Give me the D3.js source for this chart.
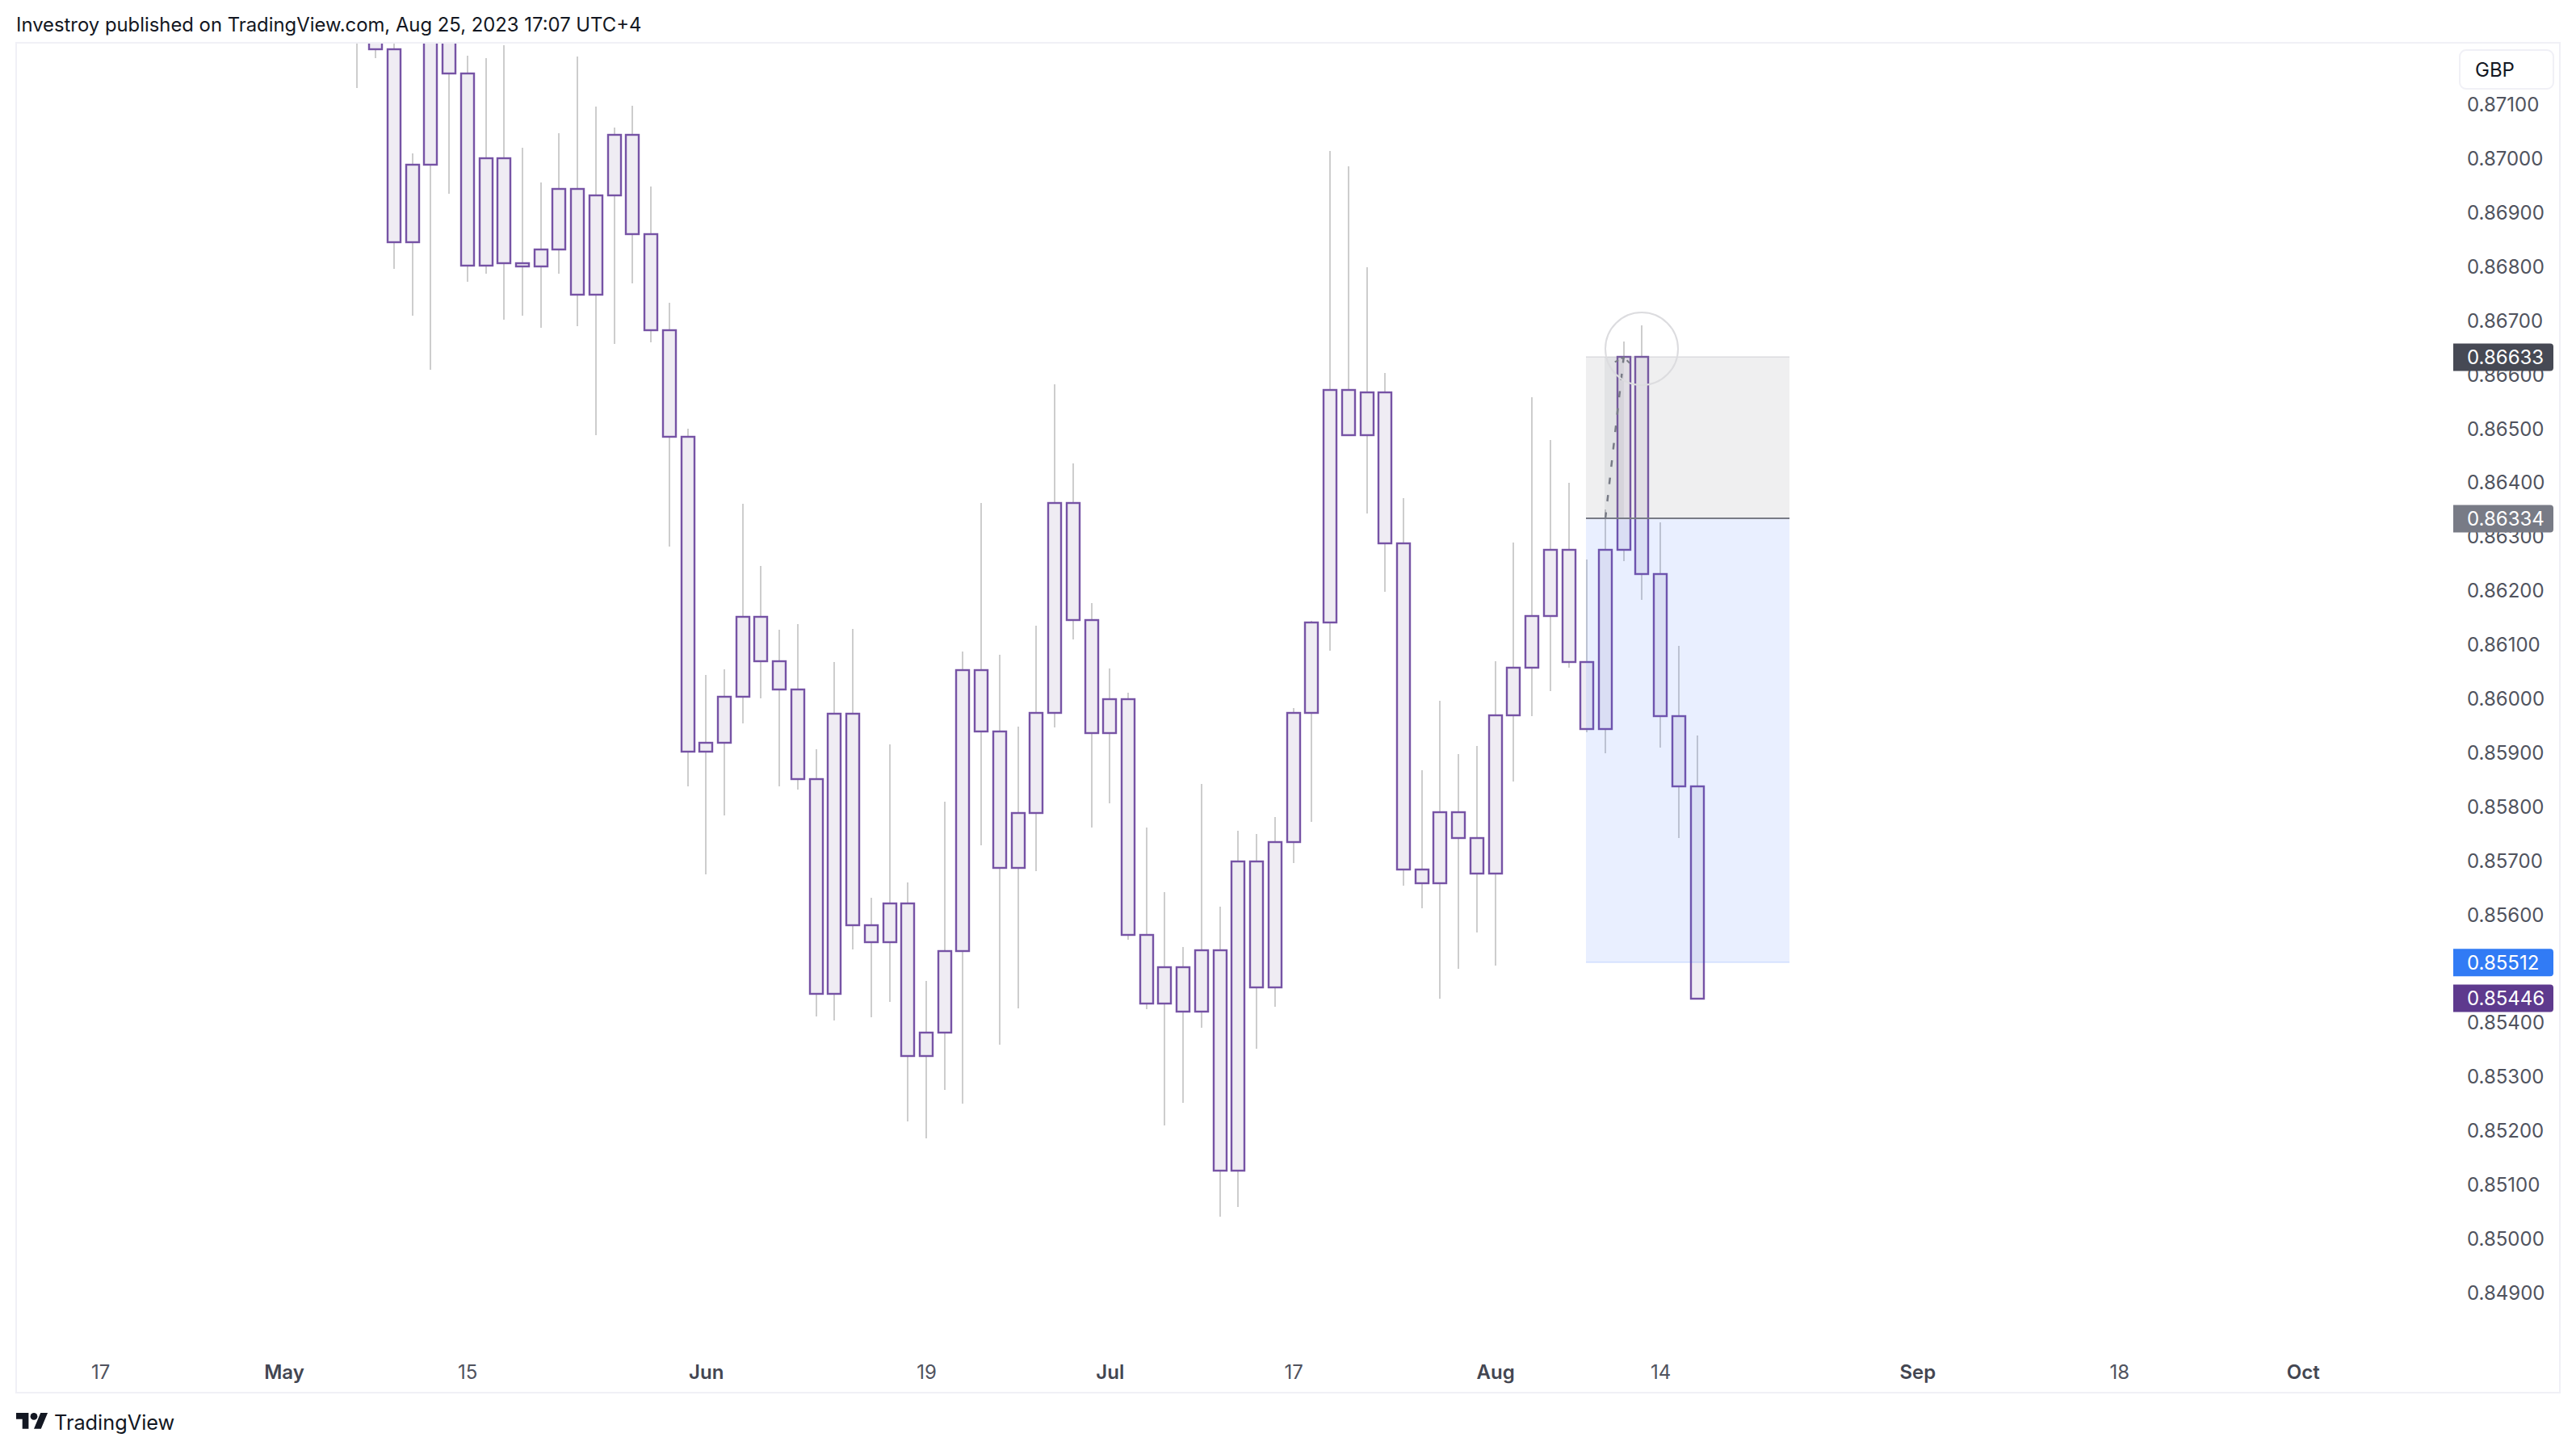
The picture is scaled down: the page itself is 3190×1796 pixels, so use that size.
<!DOCTYPE html>
<html>
<head>
<meta charset="utf-8">
<style>
  html, body { margin: 0; background: #fff; }
  svg { display: block; }
  text { font-family: Inter, "Noto Sans", sans-serif; }
</style>
</head>
<body>
<div id="chart"></div>
<script src="https://cdn.jsdelivr.net/npm/d3@7"></script>
<script>
// candles, one per weekday starting on firstCandle (prices)
var firstCandle = '2023-05-05';
var candleOpen = [
  0.87300, 0.87260, 0.87203, 0.86846, 0.86989, 0.87290, 0.87159, 0.86802, 0.87002, 0.86807,
  0.86801, 0.86833, 0.86944, 0.86749, 0.86932, 0.87044, 0.86861, 0.86683, 0.86486, 0.85902,
  0.85919, 0.86005, 0.86153, 0.86070, 0.86018, 0.85852, 0.85454, 0.85973, 0.85582, 0.85550,
  0.85622, 0.85339, 0.85383, 0.85534, 0.86054, 0.85940, 0.85687, 0.85789, 0.85974, 0.86363,
  0.86147, 0.85937, 0.86000, 0.85563, 0.85437, 0.85503, 0.85422, 0.85535, 0.85127, 0.85699,
  0.85466, 0.85736, 0.85975, 0.86142, 0.86573, 0.86489, 0.86568, 0.86289, 0.85684, 0.85659,
  0.85791, 0.85743, 0.85677, 0.85970, 0.86058, 0.86154, 0.86277, 0.86068, 0.85945, 0.86277,
  0.86633, 0.86231, 0.85969, 0.85839
];
var candleHigh = [
  0.87340, 0.87300, 0.87240, 0.87011, 0.87330, 0.87320, 0.87191, 0.87187, 0.87211, 0.87021,
  0.86956, 0.87048, 0.87190, 0.87097, 0.87058, 0.87099, 0.86949, 0.86734, 0.86501, 0.86045,
  0.86055, 0.86362, 0.86246, 0.86128, 0.86139, 0.85907, 0.86069, 0.86130, 0.85632, 0.85916,
  0.85661, 0.85478, 0.85810, 0.86088, 0.86363, 0.86082, 0.85949, 0.86136, 0.86583, 0.86437,
  0.86178, 0.86057, 0.86012, 0.85762, 0.85643, 0.85541, 0.85843, 0.85616, 0.85756, 0.85750,
  0.85781, 0.85983, 0.86145, 0.87015, 0.86987, 0.86800, 0.86604, 0.86372, 0.85868, 0.85997,
  0.85898, 0.85913, 0.86070, 0.86290, 0.86559, 0.86480, 0.86400, 0.86258, 0.86351, 0.86662,
  0.86692, 0.86327, 0.86098, 0.85933
];
var candleLow = [
  0.87131, 0.87187, 0.86797, 0.86710, 0.86610, 0.86935, 0.86773, 0.86788, 0.86703, 0.86710,
  0.86687, 0.86787, 0.86690, 0.86489, 0.86658, 0.86770, 0.86660, 0.86283, 0.85838, 0.85675,
  0.85785, 0.85955, 0.86002, 0.85838, 0.85833, 0.85413, 0.85405, 0.85536, 0.85411, 0.85440,
  0.85218, 0.85187, 0.85277, 0.85251, 0.85730, 0.85360, 0.85428, 0.85681, 0.85947, 0.86110,
  0.85762, 0.85807, 0.85554, 0.85426, 0.85210, 0.85253, 0.85391, 0.85042, 0.85060, 0.85352,
  0.85431, 0.85696, 0.85773, 0.86089, 0.86489, 0.86344, 0.86199, 0.85655, 0.85613, 0.85445,
  0.85501, 0.85568, 0.85507, 0.85847, 0.85968, 0.86015, 0.86058, 0.85938, 0.85900, 0.86255,
  0.86184, 0.85910, 0.85743, 0.85446
];
var candleClose = [
  0.87260, 0.87203, 0.86846, 0.86989, 0.87290, 0.87159, 0.86802, 0.87002, 0.86807, 0.86801,
  0.86833, 0.86944, 0.86749, 0.86932, 0.87044, 0.86861, 0.86683, 0.86486, 0.85902, 0.85919,
  0.86005, 0.86153, 0.86070, 0.86018, 0.85852, 0.85454, 0.85973, 0.85582, 0.85550, 0.85622,
  0.85339, 0.85383, 0.85534, 0.86054, 0.85940, 0.85687, 0.85789, 0.85974, 0.86363, 0.86147,
  0.85937, 0.86000, 0.85563, 0.85437, 0.85503, 0.85422, 0.85535, 0.85127, 0.85699, 0.85466,
  0.85736, 0.85975, 0.86142, 0.86573, 0.86489, 0.86568, 0.86289, 0.85684, 0.85659, 0.85791,
  0.85743, 0.85677, 0.85970, 0.86058, 0.86154, 0.86277, 0.86068, 0.85945, 0.86277, 0.86633,
  0.86231, 0.85969, 0.85839, 0.85446
];

// axis labels
var priceTicks = [
  0.871, 0.870, 0.869, 0.868, 0.867, 0.866, 0.865, 0.864, 0.863, 0.862, 0.861, 0.860,
  0.859, 0.858, 0.857, 0.856, 0.854, 0.853, 0.852, 0.851, 0.850, 0.849
];
var dateTicks = ['2023-04-17', '2023-05-01', '2023-05-15', '2023-06-01', '2023-06-19', '2023-07-03',
  '2023-07-17', '2023-08-01', '2023-08-14', '2023-09-01', '2023-09-18', '2023-10-02'];
var dateLabels = ['17', 'May', '15', 'Jun', '19', 'Jul', '17', 'Aug', '14', 'Sep', '18', 'Oct'];
var boldLabels = ['May', 'Jun', 'Jul', 'Aug', 'Sep', 'Oct'];

// price tags on the right edge, and the position drawing
var tagPrices = [0.86633, 0.86334, 0.85512, 0.85446];
var tagColors = ['#464954', '#787b86', '#317bf5', '#5e3a8e'];
var targetPrice = 0.86633, entryPrice = 0.86334, stopPrice = 0.85512;
var positionDates = ['2023-08-08', '2023-08-23'];
var bandDates = ['2023-08-09', '2023-08-10'];
var circleDate = '2023-08-11', circlePrice = 0.86649;

var width = 3190, height = 1796;
var frame = { left: 20, right: 3170, top: 54, bottom: 1726 };

var svg = d3.select('#chart').append('svg')
  .attr('width', width)
  .attr('height', height);

var iso = d3.utcFormat('%Y-%m-%d');
var sessions = d3.utcDay.range(new Date('2023-04-17'), new Date('2023-10-03'))
  .filter(function(d) { return d.getUTCDay() > 0 && d.getUTCDay() < 6; })
  .map(iso);

var x = d3.scalePoint().domain(sessions).range([124.2, 2851.7]);
var y = d3.scaleLinear().domain([0.871, 0.849]).range([130, 1601.8]);

// snap to whole pixels so the strokes stay crisp
var px = function(d) { return Math.round(x(d)); };
var py = function(p) { return Math.round(y(p)); };

var candles = candleOpen.map(function(o, i) {
  return {
    date: sessions[sessions.indexOf(firstCandle) + i],
    open: o, high: candleHigh[i], low: candleLow[i], close: candleClose[i]
  };
});

svg.append('clipPath').attr('id', 'pane').append('rect')
  .attr('x', frame.left).attr('y', frame.top)
  .attr('width', frame.right - frame.left).attr('height', frame.bottom - frame.top);

var pane = svg.append('g').attr('clip-path', 'url(#pane)');

// wicks then bodies
pane.selectAll('line.wick').data(candles).enter().append('line')
  .attr('class', 'wick')
  .attr('x1', function(d) { return px(d.date); })
  .attr('x2', function(d) { return px(d.date); })
  .attr('y1', function(d) { return py(d.high); })
  .attr('y2', function(d) { return py(d.low); })
  .attr('stroke', '#cdcdcd')
  .attr('stroke-width', 2);

pane.selectAll('rect.body').data(candles).enter().append('rect')
  .attr('class', 'body')
  .attr('x', function(d) { return px(d.date) - 8; })
  .attr('width', 16)
  .attr('y', function(d) { return py(Math.max(d.open, d.close)); })
  .attr('height', function(d) { return Math.abs(py(d.open) - py(d.close)); })
  .attr('fill', '#efecf3')
  .attr('stroke', '#7653a5')
  .attr('stroke-width', 2.4);

// position tool sits over the candles
var posLeft = px(positionDates[0]) - 1, posRight = px(positionDates[1]) + 1;

pane.append('rect')
  .attr('x', posLeft).attr('width', posRight - posLeft)
  .attr('y', py(targetPrice)).attr('height', py(entryPrice) - py(targetPrice))
  .attr('fill', 'rgba(120,123,134,0.12)');
pane.append('rect')
  .attr('x', posLeft).attr('width', posRight - posLeft)
  .attr('y', py(entryPrice)).attr('height', py(stopPrice) - py(entryPrice))
  .attr('fill', 'rgba(41,98,255,0.1)');
pane.append('line')
  .attr('x1', posLeft).attr('x2', posRight)
  .attr('y1', py(targetPrice)).attr('y2', py(targetPrice))
  .attr('stroke', 'rgba(120,123,134,0.15)').attr('stroke-width', 2);
pane.append('line')
  .attr('x1', posLeft).attr('x2', posRight)
  .attr('y1', py(stopPrice)).attr('y2', py(stopPrice))
  .attr('stroke', 'rgba(41,98,255,0.12)').attr('stroke-width', 2);
pane.append('rect')
  .attr('x', px(bandDates[0]) - 1).attr('width', px(bandDates[1]) - px(bandDates[0]) + 1)
  .attr('y', py(targetPrice)).attr('height', py(entryPrice) - py(targetPrice))
  .attr('fill', 'rgba(120,123,134,0.1)');
pane.append('line')
  .attr('x1', posLeft).attr('x2', posRight)
  .attr('y1', py(entryPrice)).attr('y2', py(entryPrice))
  .attr('stroke', '#787b86').attr('stroke-width', 2);

// dashed arrow from the entry up to the target
var arrowTip = [x(bandDates[1]), y(targetPrice)];
var arrow = d3.line();
pane.append('path')
  .attr('d', arrow([[x(bandDates[0]), y(entryPrice)], arrowTip]))
  .attr('fill', 'none').attr('stroke', '#787b86')
  .attr('stroke-width', 2.5).attr('stroke-dasharray', '8 13.6');
pane.append('path')
  .attr('d', arrow([[arrowTip[0] - 11, arrowTip[1] + 6], arrowTip, [arrowTip[0] + 8, arrowTip[1] + 8]]))
  .attr('fill', 'none').attr('stroke', '#787b86')
  .attr('stroke-width', 2).attr('stroke-dasharray', '5 4');

pane.append('circle')
  .attr('cx', px(circleDate)).attr('cy', py(circlePrice)).attr('r', 45)
  .attr('fill', 'none').attr('stroke', '#dcdcdf').attr('stroke-width', 2);

// frame
svg.append('rect')
  .attr('x', frame.left).attr('y', frame.top - 1)
  .attr('width', frame.right - frame.left).attr('height', frame.bottom - frame.top)
  .attr('fill', 'none').attr('stroke', '#f0f0f6').attr('stroke-width', 2);

// axes
var yAxis = svg.append('g')
  .attr('transform', 'translate(3055,0)')
  .call(d3.axisRight(y).tickValues(priceTicks).tickFormat(d3.format('.5f')).tickSize(0).tickPadding(0));
yAxis.select('.domain').remove();
yAxis.selectAll('text')
  .attr('font-size', 24).attr('font-family', 'Inter').attr('fill', '#50535e');

var xAxis = svg.append('g')
  .attr('transform', 'translate(0,1691)')
  .call(d3.axisBottom(x).tickValues(dateTicks)
    .tickFormat(function(d) { return dateLabels[dateTicks.indexOf(d)]; })
    .tickSize(0).tickPadding(0));
xAxis.select('.domain').remove();
xAxis.selectAll('text')
  .attr('font-size', 24).attr('font-family', 'Inter')
  .attr('fill', function(d) { return boldLabels.indexOf(dateLabels[dateTicks.indexOf(d)]) >= 0 ? '#434651' : '#50535e'; })
  .attr('font-weight', function(d) { return boldLabels.indexOf(dateLabels[dateTicks.indexOf(d)]) >= 0 ? 600 : 400; });

// price tags
var tagH = 34;
var tags = svg.selectAll('g.tag').data(tagPrices).enter().append('g')
  .attr('class', 'tag')
  .attr('transform', function(d) { return 'translate(0,' + y(d) + ')'; });
tags.append('path')
  .attr('d', 'M3038,' + (-tagH / 2) + 'H3158a4,4 0 0 1 4,4V' + (tagH / 2 - 4) + 'a4,4 0 0 1 -4,4H3038Z')
  .attr('fill', function(d, i) { return tagColors[i]; });
tags.append('text')
  .attr('x', 3055).attr('dy', '0.34em')
  .attr('font-size', 24).attr('fill', '#fff')
  .text(d3.format('.5f'));

// currency box
svg.append('rect')
  .attr('x', 3046).attr('y', 62).attr('width', 116).attr('height', 48).attr('rx', 8)
  .attr('fill', '#fff').attr('stroke', '#f0f0f6').attr('stroke-width', 2);
svg.append('text')
  .attr('x', 3065).attr('y', 95)
  .attr('font-size', 24).attr('fill', '#131722')
  .text('GBP');

// header and footer
svg.append('text')
  .attr('x', 20).attr('y', 39)
  .attr('font-size', 23.85).attr('fill', '#131722')
  .text('Investroy published on TradingView.com, Aug 25, 2023 17:07 UTC+4');

var logo = svg.append('g')
  .attr('transform', 'translate(20,1745.6) scale(1.1)')
  .attr('fill', '#131722');
logo.append('path').attr('d', 'M14 22H7V11H0V4h14v18zM28 22h-8l7.5-18h8L28 22z');
logo.append('circle').attr('cx', 20).attr('cy', 8).attr('r', 4);

svg.append('text')
  .attr('x', 67).attr('y', 1771)
  .attr('font-size', 25.3).attr('fill', '#131722')
  .text('TradingView');
</script>
</body>
</html>
